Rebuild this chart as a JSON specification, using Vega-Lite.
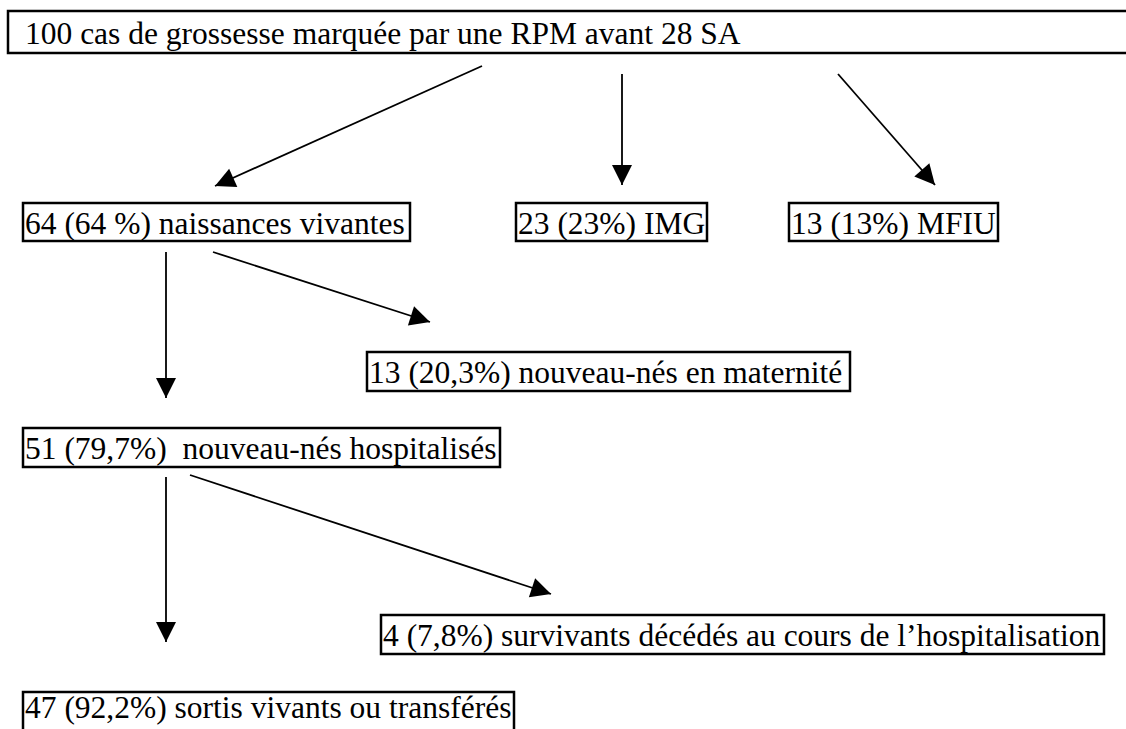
{
  "$schema": "https://vega.github.io/schema/vega-lite/v6.json",
  "width": 1126,
  "height": 729,
  "autosize": {"type": "fit", "contains": "padding"},
  "padding": 0,
  "background": "white",
  "config": {"view": {"stroke": null}},
  "datasets": {
    "boxes": [
      {"x1": 8, "x2": 1140, "y1": 11, "y2": 53, "tx": 25, "ty": 44, "label": "100 cas de grossesse marquée par une RPM avant 28 SA"},
      {"x1": 23, "x2": 410, "y1": 203, "y2": 241, "tx": 25, "ty": 234, "label": "64 (64 %) naissances vivantes"},
      {"x1": 516, "x2": 707, "y1": 203, "y2": 241, "tx": 518, "ty": 234, "label": "23 (23%) IMG"},
      {"x1": 789, "x2": 998, "y1": 203, "y2": 241, "tx": 791, "ty": 234, "label": "13 (13%) MFIU"},
      {"x1": 367, "x2": 850, "y1": 352, "y2": 391, "tx": 369, "ty": 383, "label": "13 (20,3%) nouveau-nés en maternité"},
      {"x1": 23, "x2": 500, "y1": 428, "y2": 467, "tx": 25, "ty": 459, "label": "51 (79,7%)\u00a0 nouveau-nés hospitalisés"},
      {"x1": 381, "x2": 1104, "y1": 615, "y2": 654, "tx": 383, "ty": 646, "label": "4 (7,8%) survivants décédés au cours de l’hospitalisation"},
      {"x1": 23, "x2": 514, "y1": 692, "y2": 735, "tx": 25, "ty": 718, "label": "47 (92,2%) sortis vivants ou transférés"}
    ],
    "arrows": [
      {"x1": 482, "y1": 66, "x2": 215, "y2": 186},
      {"x1": 622, "y1": 74, "x2": 622, "y2": 185},
      {"x1": 838, "y1": 74, "x2": 935, "y2": 185},
      {"x1": 166, "y1": 252, "x2": 166, "y2": 398},
      {"x1": 213, "y1": 252, "x2": 430, "y2": 322},
      {"x1": 166, "y1": 477, "x2": 166, "y2": 642},
      {"x1": 190, "y1": 475, "x2": 551, "y2": 594}
    ]
  },
  "layer": [
    {
      "data": {"name": "boxes"},
      "mark": {"type": "rect", "fill": "white", "stroke": "black", "strokeWidth": 2.5, "clip": true},
      "encoding": {
        "x": {"field": "x1", "type": "quantitative", "scale": {"domain": [0, 1126], "nice": false, "zero": false}, "axis": null},
        "x2": {"field": "x2"},
        "y": {"field": "y1", "type": "quantitative", "scale": {"domain": [0, 729], "nice": false, "zero": false, "reverse": true}, "axis": null},
        "y2": {"field": "y2"}
      }
    },
    {
      "data": {"name": "boxes"},
      "mark": {"type": "text", "font": "Liberation Serif", "fontSize": 31.5, "align": "left", "baseline": "alphabetic", "color": "black"},
      "encoding": {
        "x": {"field": "tx", "type": "quantitative", "axis": null},
        "y": {"field": "ty", "type": "quantitative", "axis": null},
        "text": {"field": "label", "type": "nominal"}
      }
    },
    {
      "data": {"name": "arrows"},
      "mark": {"type": "rule", "color": "black", "strokeWidth": 1.8},
      "encoding": {
        "x": {"field": "x1", "type": "quantitative", "axis": null},
        "y": {"field": "y1", "type": "quantitative", "axis": null},
        "x2": {"field": "x2"},
        "y2": {"field": "y2"}
      }
    },
    {
      "data": {"name": "arrows"},
      "transform": [
        {"calculate": "atan2(datum.x2 - datum.x1, datum.y1 - datum.y2) * 180 / PI", "as": "heading"}
      ],
      "mark": {"type": "point", "shape": "M0,0L-1,2L1,2Z", "size": 400, "filled": true, "fill": "black", "stroke": null, "opacity": 1},
      "encoding": {
        "x": {"field": "x2", "type": "quantitative", "axis": null},
        "y": {"field": "y2", "type": "quantitative", "axis": null},
        "angle": {"field": "heading", "type": "quantitative", "scale": null}
      }
    }
  ]
}
